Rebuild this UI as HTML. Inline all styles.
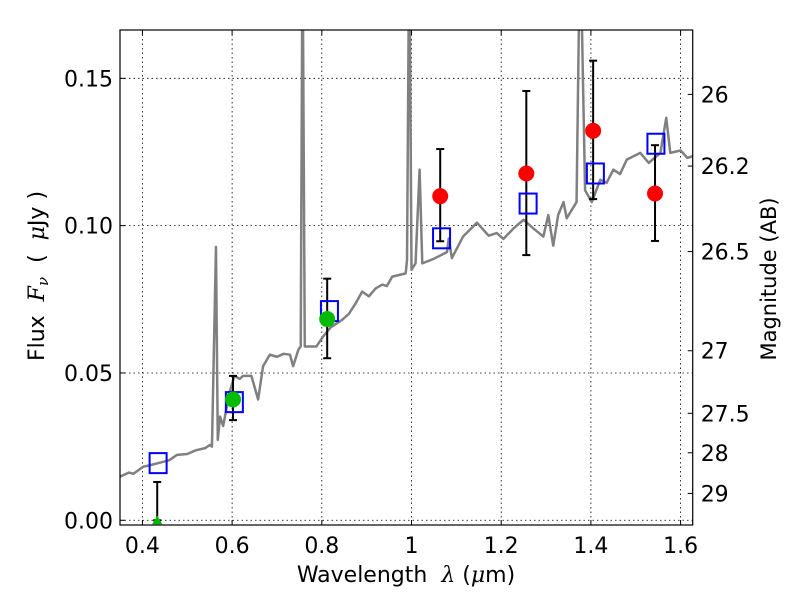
<!DOCTYPE html>
<html><head><meta charset="utf-8"><style>
html,body{margin:0;padding:0;background:#fff;}
svg text{font-family:"DejaVu Sans","Liberation Sans",sans-serif;fill:#000;white-space:pre;}
</style></head><body>
<svg id="chart" width="800" height="600" xmlns="http://www.w3.org/2000/svg">
<g id="grid"></g>
<g id="spec"></g>
<g id="marks"></g>
<rect x="120" y="30" width="572.7" height="495" fill="none" stroke="#000" stroke-width="1.2"/>
<g id="axes"></g>
<text x="406" y="582" font-size="22" text-anchor="middle">Wavelength&#160;&#160;<tspan font-family="DejaVu Serif" font-style="italic">λ</tspan> (<tspan font-family="DejaVu Serif" font-style="italic">μ</tspan>m)</text>
<text transform="translate(44,276) rotate(-90)" font-size="22" text-anchor="middle">Flux&#160;&#160;<tspan font-family="DejaVu Serif" font-style="italic">F<tspan font-size="15" dy="4">ν</tspan></tspan><tspan dy="-4">&#160;&#160;(&#160;&#160;</tspan><tspan font-family="DejaVu Serif" font-style="italic">μ</tspan>Jy )</text>
<text transform="translate(776,279) rotate(-90)" font-size="21" text-anchor="middle">Magnitude (AB)</text>
</svg>
<script>
const specLam=[0.35,0.37,0.38,0.402,0.42,0.44,0.46,0.477,0.50,0.52,0.54,0.551,0.555,0.564,0.568,0.573,0.580,0.594,0.605,0.617,0.624,0.643,0.658,0.669,0.684,0.70,0.715,0.729,0.736,0.748,0.753,0.757,0.762,0.788,0.803,0.82,0.845,0.86,0.875,0.890,0.905,0.920,0.935,0.945,0.957,0.987,0.990,0.995,1.000,1.009,1.018,1.024,1.049,1.079,1.083,1.090,1.115,1.146,1.172,1.19,1.205,1.227,1.250,1.272,1.294,1.305,1.316,1.327,1.339,1.346,1.368,1.376,1.387,1.402,1.421,1.435,1.450,1.465,1.480,1.510,1.529,1.555,1.568,1.577,1.60,1.615,1.628];
const specFlux=[0.0148,0.0162,0.0158,0.0182,0.0188,0.0196,0.0204,0.0222,0.0225,0.0238,0.0245,0.0256,0.0250,0.0928,0.0273,0.0352,0.032,0.0432,0.049,0.048,0.049,0.049,0.041,0.0523,0.0562,0.0555,0.0565,0.0562,0.0523,0.058,0.059,0.2,0.059,0.059,0.0624,0.0655,0.068,0.0700,0.0735,0.0776,0.0760,0.0787,0.0800,0.0795,0.0827,0.0838,0.0883,0.2,0.085,0.0872,0.119,0.0872,0.0887,0.091,0.0956,0.089,0.0963,0.101,0.0966,0.0975,0.0955,0.099,0.102,0.099,0.0963,0.1036,0.0932,0.1036,0.108,0.1025,0.108,0.2,0.112,0.108,0.1156,0.1145,0.119,0.1175,0.1224,0.1247,0.1213,0.1247,0.1366,0.1247,0.1255,0.123,0.1236];
const modelLam=[0.435,0.605,0.817,1.067,1.26,1.41,1.545];
const modelFlux=[0.0194,0.0401,0.071,0.0957,0.1075,0.1177,0.1278];
const greenLam=[0.602,0.812];
const greenFlux=[0.041,0.0683];
const greenLo=[0.034,0.055];
const greenHi=[0.049,0.082];
const limLam=[0.433];
const limFlux=[0.0];
const limHi=[0.013];
const redLam=[1.064,1.256,1.405,1.543];
const redFlux=[0.110,0.1177,0.1322,0.1109];
const redLo=[0.0947,0.090,0.109,0.0948];
const redHi=[0.126,0.1457,0.156,0.1273];
const xTicks=[0.4,0.6,0.8,1.0,1.2,1.4,1.6];
const xTickLabels=["0.4","0.6","0.8","1","1.2","1.4","1.6"];
const yTicks=[0,0.05,0.10,0.15];
const yTickLabels=["0.00","0.05","0.10","0.15"];
const magTicks=[26,26.2,26.5,27,27.5,28,29];
const magTickLabels=["26","26.2","26.5","27","27.5","28","29"];

const X0=120,X1=692.7,Y0=525,Y1=30,xmin=0.35,xmax=1.627,ymin=-0.0016,ymax=0.1664;
const sx=v=>X0+(v-xmin)/(xmax-xmin)*(X1-X0);
const sy=v=>Y0-(v-ymin)/(ymax-ymin)*(Y0-Y1);
const NS="http://www.w3.org/2000/svg";
function mk(tag,parent,attrs){const e=document.createElementNS(NS,tag);for(const k in attrs)e.setAttribute(k,attrs[k]);parent.appendChild(e);return e;}
const grid=document.getElementById('grid'),axes=document.getElementById('axes'),spec=document.getElementById('spec'),marks=document.getElementById('marks');

xTicks.forEach((t,i)=>{const x=sx(t);
 let g=mk('line',grid,{x1:x,x2:x,y1:Y1,y2:Y0,stroke:'#000','stroke-width':0.8,'stroke-dasharray':'1.5,3'});
 
 let a=mk('line',axes,{x1:x,x2:x,y1:Y0,y2:Y0-5,stroke:'#000'});
 let b=mk('line',axes,{x1:x,x2:x,y1:Y1,y2:Y1+5,stroke:'#000'});
 let l=mk('text',axes,{x:x,y:Y0+28,'font-size':22,'text-anchor':'middle'});l.textContent=xTickLabels[i];
 
});
yTicks.forEach((t,i)=>{const y=sy(t);
 let g=mk('line',grid,{x1:X0,x2:X1,y1:y,y2:y,stroke:'#000','stroke-width':0.8,'stroke-dasharray':'1.5,3'});
 
 let a=mk('line',axes,{x1:X0,x2:X0+5,y1:y,y2:y,stroke:'#000'});
 let l=mk('text',axes,{x:X0-7,y:y+8,'font-size':22,'text-anchor':'end'});l.textContent=yTickLabels[i];
 
});
magTicks.forEach((m,i)=>{const y=sy(Math.pow(10,(23.9-m)/2.5));
 let a=mk('line',axes,{x1:X1,x2:X1-5,y1:y,y2:y,stroke:'#000'});
 let l=mk('text',axes,{x:X1+8,y:y+8,'font-size':22,'text-anchor':'start'});l.textContent=magTickLabels[i];
 
});

const cp=mk('clipPath',spec,{id:'clip'});mk('rect',cp,{x:X0,y:Y1,width:X1-X0,height:Y0-Y1});
const p=mk('polyline',spec,{points:specLam.map((l,i)=>sx(l)+','+sy(specFlux[i])).join(' '),fill:'none',stroke:'#808080','stroke-width':2.5,'clip-path':'url(#clip)','stroke-linejoin':'round'});


function err(parent,l,lo,hi){const x=sx(l);
 let e=mk('g',parent,{stroke:'#000','stroke-width':2});
 
 mk('line',e,{x1:x,x2:x,y1:sy(lo),y2:sy(hi)});
 mk('line',e,{x1:x-4,x2:x+4,y1:sy(lo),y2:sy(lo)});
 mk('line',e,{x1:x-4,x2:x+4,y1:sy(hi),y2:sy(hi)});
}
greenLam.forEach((l,i)=>{err(marks,l,greenLo[i],greenHi[i]);});
limLam.forEach((l,i)=>{err(marks,l,limFlux[i],limHi[i]);});
redLam.forEach((l,i)=>{err(marks,l,redLo[i],redHi[i]);});
modelLam.forEach((l,i)=>{
 let r=mk('rect',marks,{x:sx(l)-8.5,y:sy(modelFlux[i])-10,width:17,height:20,fill:'none',stroke:'#0000ff','stroke-width':2});
 
});
greenLam.forEach((l,i)=>{
 let c=mk('circle',marks,{cx:sx(l),cy:sy(greenFlux[i]),r:8,fill:'#00bb00'});
 
});
limLam.forEach((l,i)=>{const x=sx(l),y=sy(limFlux[i]);
 let t=mk('polygon',marks,{points:`${x-5},${y+4} ${x+5},${y+4} ${x},${y-5}`,fill:'#00bb00'});
 
});
redLam.forEach((l,i)=>{
 let c=mk('circle',marks,{cx:sx(l),cy:sy(redFlux[i]),r:8,fill:'#ff0000'});
 
});
</script>
</body></html>
